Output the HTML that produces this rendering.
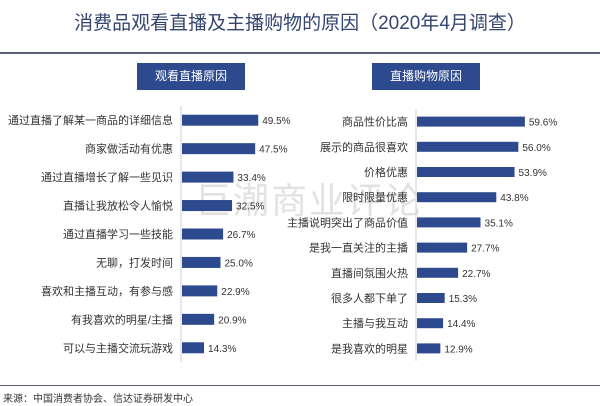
<!DOCTYPE html>
<html><head><meta charset="utf-8"><style>
body{margin:0;background:#fff;}
#root{position:relative;width:600px;height:406px;overflow:hidden;font-family:"Liberation Sans","Noto Sans CJK SC",sans-serif;}
.t{position:absolute;white-space:nowrap;}
</style></head><body>
<div id="root">
<div class="t" style="left:0;width:600px;text-align:center;top:8px;font-size:19px;color:#34456f;">消费品观看直播及主播购物的原因（2020年4月调查）</div>
<div style="position:absolute;left:0;top:52px;width:600px;height:2px;background:#5a6170;"></div>
<div class="t" style="left:137px;top:63px;width:108px;height:27px;background:#2e4a8e;color:#fff;font-size:12px;line-height:27px;text-align:center;">观看直播原因</div>
<div class="t" style="left:372px;top:63px;width:108px;height:27px;background:#2e4a8e;color:#fff;font-size:12px;line-height:27px;text-align:center;">直播购物原因</div>
<div class="t" style="left:195px;top:172px;font-size:36px;color:rgba(190,190,190,0.45);letter-spacing:2px;">巨潮商业评论</div>
<svg id="svg" width="600" height="406" style="position:absolute;left:0;top:0"></svg>
<div style="position:absolute;left:0;top:385px;width:600px;height:1px;background:#5a6170;"></div>
<div class="t" style="left:3px;top:390px;font-size:10px;color:#333;">来源：中国消费者协会、信达证券研发中心</div>
</div>
<script>
const leftCategories=["通过直播了解某一商品的详细信息","商家做活动有优惠","通过直播增长了解一些见识","直播让我放松令人愉悦","通过直播学习一些技能","无聊，打发时间","喜欢和主播互动，有参与感","有我喜欢的明星/主播","可以与主播交流玩游戏"];
const leftValues=[49.5,47.5,33.4,32.5,26.7,25.0,22.9,20.9,14.3];
const rightCategories=["商品性价比高","展示的商品很喜欢","价格优惠","限时限量优惠","主播说明突出了商品价值","是我一直关注的主播","直播间氛围火热","很多人都下单了","主播与我互动","是我喜欢的明星"];
const rightValues=[59.6,56.0,53.9,43.8,35.1,27.7,22.7,15.3,14.4,12.9];
const NS="http://www.w3.org/2000/svg";
const svg=document.getElementById('svg');
function mk(tag,attrs){const e=document.createElementNS(NS,tag);for(const k in attrs)e.setAttribute(k,attrs[k]);svg.appendChild(e);return e;}
function panel(cats,vals,x0,scale,top,bottom,bh,side){
  const ax=mk('line',{x1:x0,x2:x0,y1:top,y2:bottom,stroke:'#d0d0d0','stroke-width':1});
  
  
  const step=(bottom-top)/cats.length;
  cats.forEach((c,i)=>{
    const cy=top+step*(i+0.5);
    const r=mk('rect',{x:x0+1,y:cy-bh/2,width:vals[i]*scale,height:bh,fill:'#2e4a8e'});
    
    
    const l=mk('text',{x:x0-8,y:cy+4,'text-anchor':'end','font-size':11,fill:'#333'});
    l.textContent=c;
    
    
    const v=mk('text',{x:x0+vals[i]*scale+5,y:cy+4,'font-size':10,fill:'#333'});
    v.textContent=vals[i].toFixed(1)+'%';
    
    
  });
}
panel(leftCategories,leftValues,181,1.54,106,362,11,'left');
panel(rightCategories,rightValues,416,1.81,109,361,10,'right');
</script>
</body></html>
